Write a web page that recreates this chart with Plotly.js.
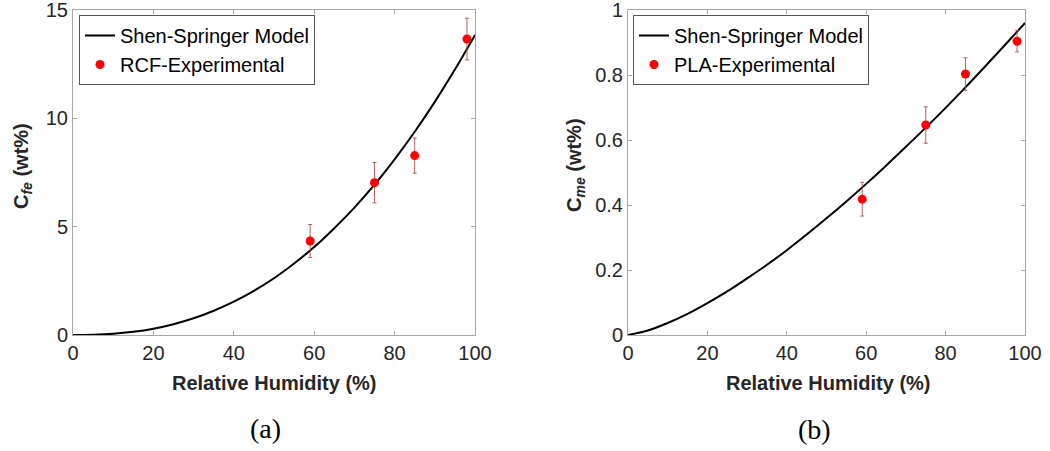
<!DOCTYPE html>
<html>
<head>
<meta charset="utf-8">
<script src="https://cdn.plot.ly/plotly-3.0.1.min.js"></script>
<style>
html,body{margin:0;padding:0;background:#fff;}
#chart{width:1050px;height:451px;}
</style>
</head>
<body>
<div id="chart"></div>
<script>
// Model curve sample points
const rhModel = [0,5,10,15,20,25,30,35,40,45,50,55,60,65,70,75,80,85,90,95,100];
const rcfModel = [0,0.01,0.055,0.146,0.29,0.50,0.77,1.12,1.54,2.04,2.62,3.30,4.06,4.93,5.88,6.94,8.11,9.38,10.76,12.25,13.85];
const plaModel = [0,0.014,0.037,0.065,0.098,0.134,0.174,0.216,0.261,0.309,0.359,0.411,0.465,0.521,0.579,0.638,0.699,0.762,0.827,0.893,0.96];

// Experimental data
const rhExp = [59,75,85,98];
const rcfExp = [4.34,7.03,8.28,13.66];
const rcfErr = [0.76,0.93,0.81,0.96];
const plaExp = [0.418,0.646,0.803,0.904];
const plaErr = [0.052,0.056,0.05,0.033];

const xTicks = [0,20,40,60,80,100];
const yTicksA = [0,5,10,15];
const yTicksB = [0,0.2,0.4,0.6,0.8,1];

const FONT = '"Liberation Sans", Arial, sans-serif';
const errColor = 'rgba(170,70,70,0.85)';

const traces = [
  {x: rhModel, y: rcfModel, type:'scatter', mode:'lines', name:'Shen-Springer Model',
   line:{color:'#000', width:2, shape:'spline', smoothing:1}, xaxis:'x', yaxis:'y', legend:'legend'},
  {x: rhExp, y: rcfExp, type:'scatter', mode:'markers', name:'RCF-Experimental',
   marker:{color:'#ff0000', size:9},
   error_y:{type:'data', array: rcfErr, visible:true, color: errColor, thickness:1, width:2},
   xaxis:'x', yaxis:'y', legend:'legend'},
  {x: rhModel, y: plaModel, type:'scatter', mode:'lines', name:'Shen-Springer Model',
   line:{color:'#000', width:2, shape:'spline', smoothing:1}, xaxis:'x2', yaxis:'y2', legend:'legend2'},
  {x: rhExp, y: plaExp, type:'scatter', mode:'markers', name:'PLA-Experimental',
   marker:{color:'#ff0000', size:9},
   error_y:{type:'data', array: plaErr, visible:true, color: errColor, thickness:1, width:2},
   xaxis:'x2', yaxis:'y2', legend:'legend2'}
];

const axisCommon = {
  showgrid:false, zeroline:false, showline:true, linecolor:'#a6a6a6', linewidth:1,
  mirror:'ticks', ticks:'inside', ticklen:4, tickcolor:'#a6a6a6',
  ticklabeloverflow:'allow',
  tickfont:{family:FONT, size:20, color:'#262626'}
};

const layout = {
  width:1050, height:451,
  margin:{l:0, r:0, t:0, b:0},
  paper_bgcolor:'#fff', plot_bgcolor:'#fff',
  font:{family:FONT},
  xaxis: Object.assign({}, axisCommon, {domain:[73/1050, 475/1050], range:[0,100], tickvals:xTicks, anchor:'y'}),
  yaxis: Object.assign({}, axisCommon, {domain:[1-335/451, 1-10/451], range:[0,15], tickvals:yTicksA, anchor:'x'}),
  xaxis2: Object.assign({}, axisCommon, {domain:[628/1050, 1025/1050], range:[0,100], tickvals:xTicks, anchor:'y2'}),
  yaxis2: Object.assign({}, axisCommon, {domain:[1-335/451, 1-10/451], range:[0,1], tickvals:yTicksB, anchor:'x2'}),
  legend: {x:79/1050, y:1-15/451, xanchor:'left', yanchor:'top', bgcolor:'#fff',
           bordercolor:'#555', borderwidth:1, font:{family:FONT, size:20, color:'#000'},
           itemwidth:30, tracegroupgap:0},
  legend2: {x:633/1050, y:1-15/451, xanchor:'left', yanchor:'top', bgcolor:'#fff',
           bordercolor:'#555', borderwidth:1, font:{family:FONT, size:20, color:'#000'},
           itemwidth:30, tracegroupgap:0},
  showlegend:true,
  annotations: [
    {text:'<b>Relative Humidity (%)</b>', xref:'paper', yref:'paper', x:274/1050, y:1-383/451,
     xanchor:'center', yanchor:'middle', showarrow:false, font:{family:FONT, size:20, color:'#262626'}},
    {text:'<b>Relative Humidity (%)</b>', xref:'paper', yref:'paper', x:828/1050, y:1-383/451,
     xanchor:'center', yanchor:'middle', showarrow:false, font:{family:FONT, size:20, color:'#262626'}},
    {text:'<b>C<sub><i>fe</i></sub> (wt%)</b>', xref:'paper', yref:'paper', x:22/1050, y:1-166/451,
     xanchor:'center', yanchor:'middle', textangle:-90, showarrow:false, font:{family:FONT, size:20, color:'#262626'}},
    {text:'<b>C<sub><i>me</i></sub> (wt%)</b>', xref:'paper', yref:'paper', x:575/1050, y:1-165/451,
     xanchor:'center', yanchor:'middle', textangle:-90, showarrow:false, font:{family:FONT, size:20, color:'#262626'}},
    {text:'(a)', xref:'paper', yref:'paper', x:265/1050, y:1-428/451,
     xanchor:'center', yanchor:'middle', showarrow:false, font:{family:'"Liberation Serif", "DejaVu Serif", serif', size:28, color:'#000'}},
    {text:'(b)', xref:'paper', yref:'paper', x:814/1050, y:1-429/451,
     xanchor:'center', yanchor:'middle', showarrow:false, font:{family:'"Liberation Serif", "DejaVu Serif", serif', size:28, color:'#000'}}
  ]
};

Plotly.newPlot('chart', traces, layout, {displayModeBar:false, staticPlot:true});
</script>
</body>
</html>
